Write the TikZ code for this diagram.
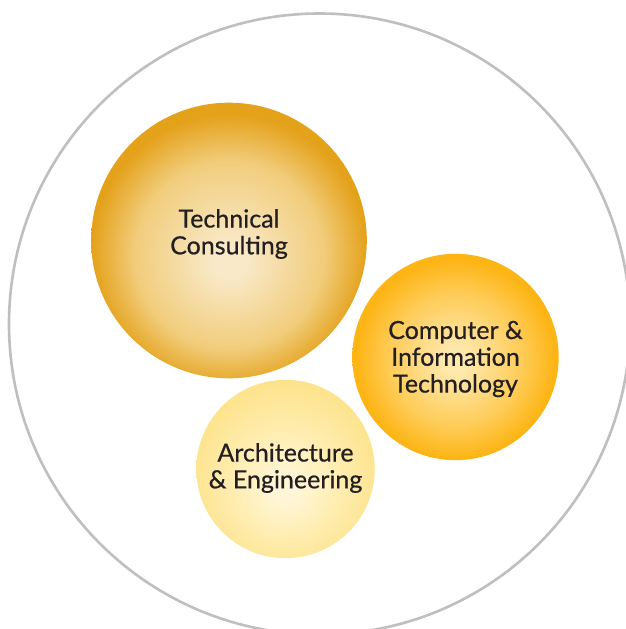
\documentclass[tikz,border=0pt]{standalone}
\usepackage{fontspec}
\setmainfont{Lato}
\newfontfamily\labelfont{Lato}[FakeBold=0.6]
\definecolor{tcin}{HTML}{F9E9C8}
\definecolor{tcmid}{HTML}{F1CD7C}
\definecolor{tcout}{HTML}{E4A11A}
\definecolor{ciin}{HTML}{FFE8AC}
\definecolor{cimid}{HTML}{FECC58}
\definecolor{ciout}{HTML}{FDB515}
\definecolor{aein}{HTML}{FFF6D8}
\definecolor{aemid}{HTML}{FFEDB0}
\definecolor{aeout}{HTML}{FDE38C}
\definecolor{ringgray}{HTML}{BFBFBF}
\definecolor{txt}{HTML}{231F20}
\pgfdeclareradialshading{tcshade}{\pgfpoint{0bp}{-4bp}}{color(0bp)=(tcin); color(3bp)=(tcin); color(17bp)=(tcmid); color(25bp)=(tcout); color(50bp)=(tcout)}
\pgfdeclareradialshading{cishade}{\pgfpoint{0bp}{-1bp}}{color(0bp)=(ciin); color(3bp)=(ciin); color(16bp)=(cimid); color(24bp)=(ciout); color(50bp)=(ciout)}
\pgfdeclareradialshading{aeshade}{\pgfpoint{0bp}{-6bp}}{color(0bp)=(aein); color(3bp)=(aein); color(15bp)=(aemid); color(27bp)=(aeout); color(50bp)=(aeout)}
\tikzset{
  bubble/.style={circle, inner sep=0pt},
  label/.style={font=\labelfont\fontsize{25bp}{26.8bp}\selectfont, text=txt, align=center, inner sep=0pt},
}
\begin{document}
\begin{tikzpicture}[x=1bp,y=-1bp]
\useasboundingbox (0,0) rectangle (626,629);
\clip (0,0) rectangle (626,629);
\fill[white] (0,0) rectangle (626,629);
\draw[ringgray, line width=2.6bp] (319.5,324) circle (310.5);
\shade[shading=tcshade] (229,240.5) circle (137.8);
\shade[shading=cishade] (455.5,357) circle (103.2);
\shade[shading=aeshade] (285.5,469) circle (89.2);
\node[bubble, minimum size=275.6bp] (tc) at (229,240.5) {};
\node[bubble, minimum size=206.4bp] (ci) at (455.5,357) {};
\node[bubble, minimum size=178.4bp] (ae) at (285.5,469) {};
\node[label] (tct) at (229,234) {Technical\\Consulting};
\node[label] (cit) at (455.5,359) {Computer \&\\Information\\Technology};
\node[label] (aet) at (285.5,468) {Architecture\\\& Engineering};
\end{tikzpicture}
\end{document}
